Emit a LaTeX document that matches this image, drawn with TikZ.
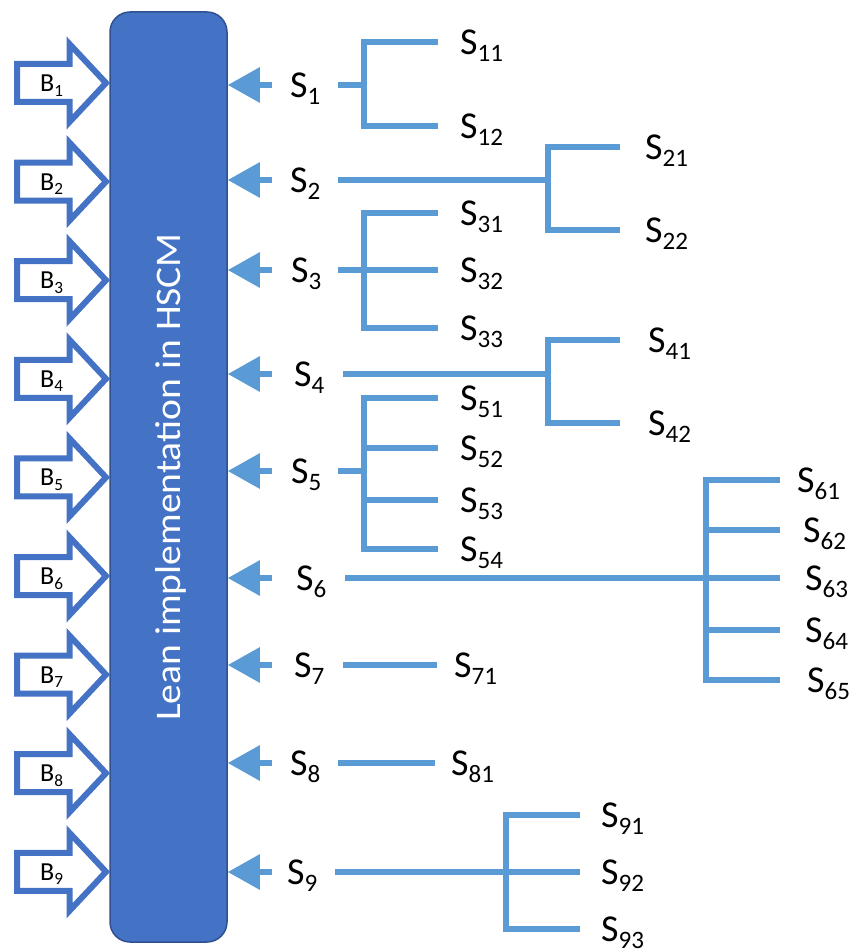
\documentclass[tikz,border=0pt]{standalone}
\usepackage{fontspec}
\usepackage{graphicx}
\setmainfont{Carlito}
\newfontfamily\barfont{Carlito}[FakeStretch=1.1]
\usetikzlibrary{arrows.meta, positioning}
\definecolor{barblue}{HTML}{4472C4}
\definecolor{barline}{HTML}{2F528F}
\definecolor{linkblue}{HTML}{5B9BD5}
\newcommand{\lsub}[1]{\raisebox{-0.18em}{\scalebox{0.66}{#1}}}

\begin{document}
\begin{tikzpicture}[x=1pt, y=-1pt, inner sep=0pt,
      sline/.style={linkblue, line width=6pt},
      sarrow/.style={linkblue, line width=6pt, -{Triangle[length=32pt, width=34pt]}},
      barrow/.style={barblue, line width=6pt, fill=white, line join=miter},
      bar/.style={rectangle, rounded corners=20pt, fill=barblue, draw=barline,
        line width=1.5pt, minimum width=117pt, minimum height=930pt},
      bartext/.style={text=white, font=\barfont\fontsize{36}{36}\selectfont},
      blabel/.style={anchor=base west, font=\fontsize{26}{28}\selectfont},
      slabel/.style={anchor=base west, font=\fontsize{38}{40}\selectfont}]
      \useasboundingbox (0,0) rectangle (851,952);
      % central bar
      \node[bar] (hscm) at (168.5,477) {};
      \node[bartext, rotate=90, anchor=base] (title) at (180,477) {Lean implementation in HSCM};
      % B1 ... B9
      \foreach \i in {1,...,9} {
        \pgfmathsetmacro{\by}{83+98.6*(\i-1)}
        \draw[barrow] (17,\by-19) -- (69.5,\by-19) -- (69.5,\by-39) -- (106,\by)
          -- (69.5,\by+39) -- (69.5,\by+19) -- (17,\by+19) -- cycle;
        \node[blabel] (b_\i) at (40,\by+8.5) {B\lsub{\i}};
      }
      % S1 ... S9 and their sub-items
      \foreach \t/\y/\sx/\rx/\jx/\ex/\leaves in {
          1/85/290/338/364/438/{1/42/460,2/126/460},
          2/180/290/338/548/620/{1/147/645,2/230/645},
          3/270/291/338/364/438/{1/213/460,2/270/460,3/328/460},
          4/374/294/343/548/620/{1/340/648,2/423/648},
          5/471/291/338/364/438/{1/398/460,2/448/460,3/500/460,4/549/460},
          6/578/296/345/706/780/{1/480/797,2/530/803,3/578/805,4/630/805,5/680/807},
          7/665/294/343/390/437/{1/665/454},
          8/763/290/338/390/435/{1/763/451},
          9/872/287/335/506/580/{1/815/601,2/872/601,3/929/601}} {
        \coordinate (a_\t) at (272,\y);
        \draw[sarrow] (a_\t) -- (hscm.east |- a_\t);
        \node[slabel] (s_\t) at (\sx,\y+12.5) {S\lsub{\t}};
        \coordinate (r_\t) at (\rx,\y);
        \coordinate (j_\t) at (\jx,\y);
        \draw[sline] (r_\t) -- (j_\t);
        \foreach \k/\ly/\lx in \leaves {
          \coordinate (e_\t\k) at (\ex,\ly);
          \draw[sline] (j_\t) |- (e_\t\k);
          \node[slabel] (s_\t\k) at (\lx,\ly+12.5) {S\lsub{\t\k}};
        }
      }
\end{tikzpicture}
\end{document}
